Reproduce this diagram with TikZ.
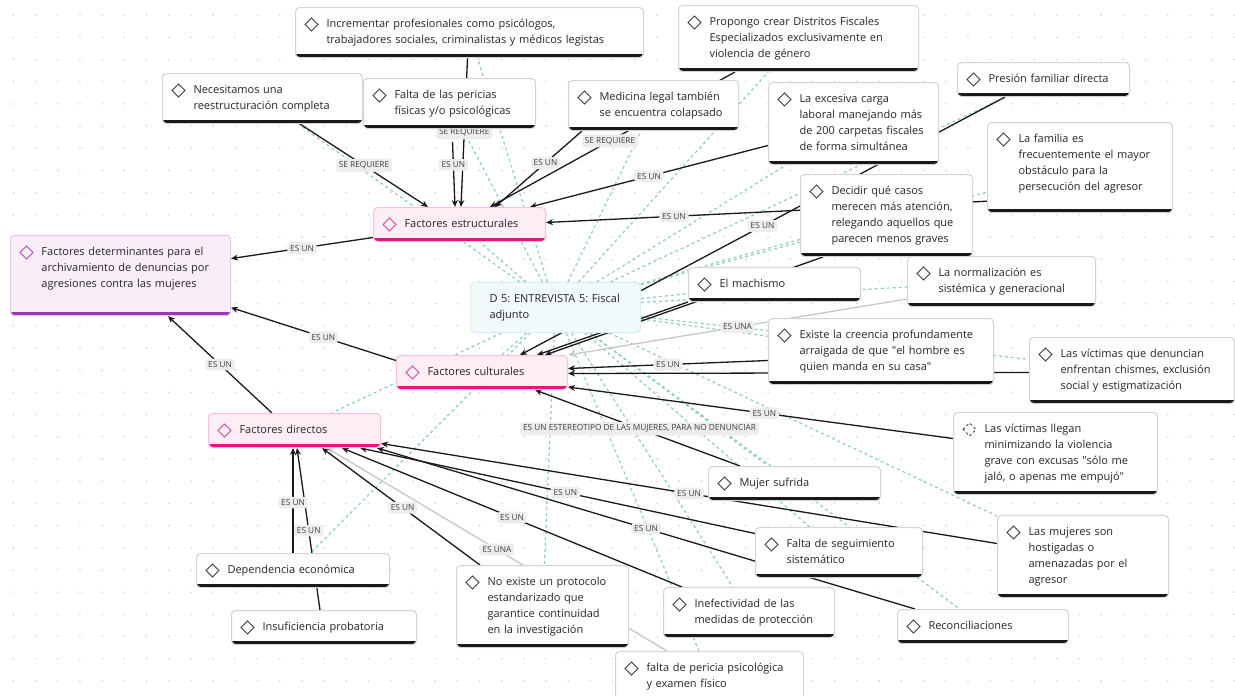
\documentclass[tikz,border=0pt]{standalone}
\usepackage{fontspec}
\setmainfont{Open Sans}
\usetikzlibrary{arrows.meta}
\frenchspacing

\definecolor{punto}{HTML}{D2D2D2}
\definecolor{rosafondo}{HTML}{FDEEF6}
\definecolor{rosaborde}{HTML}{F4C2DC}
\definecolor{rosabarra}{HTML}{E8157E}
\definecolor{rosaicono}{HTML}{D64D9B}
\definecolor{lilafondo}{HTML}{F9EEF8}
\definecolor{lilaborde}{HTML}{E8C6EA}
\definecolor{lilabarra}{HTML}{9A36AE}
\definecolor{lilaicono}{HTML}{B351C4}
\definecolor{docfondo}{HTML}{F2F9FB}
\definecolor{docborde}{HTML}{D8EDF1}
\definecolor{enlacecol}{HTML}{8FCFBD}

\pgfdeclarelayer{fondo}
\pgfdeclarelayer{lineas}
\pgfsetlayers{fondo,lineas,main}

\begin{document}
\begin{tikzpicture}[x=1pt, y=-1pt,
    caja/.style={rounded corners=4pt, anchor=north west, inner xsep=8pt, inner ysep=9pt,
        text width=#1pt-16pt, align=left, text=black!85, font=\fontsize{11}{16}\selectfont,
        execute at begin node={\leftskip=23pt\strut}, execute at end node={\strut}},
    icono/.style={draw=black!75},
    barra/.style={fill=black!90},
    marca/.style={path picture={
        \draw[icono, sharp corners, line width=1pt] ([xshift=16pt,yshift=-17pt]path picture bounding box.north west)
            +(-6.5pt,0pt) -- +(0pt,6.5pt) -- +(6.5pt,0pt) -- +(0pt,-6.5pt) -- cycle;
        \fill[barra, sharp corners] (path picture bounding box.south west)
            rectangle ([yshift=3.5pt]path picture bounding box.south east);}},
    cita/.style={caja=#1, marca, draw=black!17, fill=white, line width=1pt},
    codigo/.style={caja=#1, marca, draw=rosaborde, fill=rosafondo, line width=1pt,
        icono/.style={draw=rosaicono}, barra/.style={fill=rosabarra}},
    categoria/.style={caja=#1, marca, draw=lilaborde, fill=lilafondo, line width=1pt,
        icono/.style={draw=lilaicono}, barra/.style={fill=lilabarra}},
    documento/.style={caja=#1, draw=docborde, fill=docfondo, line width=1pt,
        execute at begin node={\leftskip=11pt\strut}},
    rel/.style={draw=black!90, line width=1.3pt, -{Stealth[length=7pt,width=6pt]}},
    relgris/.style={rel, draw=black!22},
    enlace/.style={draw=enlacecol, line width=1.2pt, dash pattern=on 3pt off 3pt},
    etiq/.style={fill=black!7, rounded corners=3pt, inner sep=2.8pt, text=black!75,
        font=\fontsize{8.3}{10}\selectfont}
]
    \useasboundingbox (0,0) rectangle (1235,696);

    \begin{pgfonlayer}{fondo}
        \fill[white] (0,0) rectangle (1235,696);
        \foreach \i in {0,...,55}
            \foreach \j in {0,...,30}
                \fill[punto] (13.3+22.2*\i, 15+22.2*\j) circle (0.9pt);
    \end{pgfonlayer}

    % codigos y documento
    \node[categoria=220] (FDET) at (10,235) {Factores determinantes para el\\archivamiento de denuncias por\\agresiones contra las mujeres\rule[-19pt]{0pt}{0pt}};
    \node[codigo=172] (FE) at (373,207) {Factores estructurales};
    \node[codigo=171] (FC) at (396,355) {Factores culturales};
    \node[codigo=172] (FD) at (208,413) {Factores directos};
    \node[documento=170] (D5) at (470,282) {D 5: ENTREVISTA 5: Fiscal\\adjunto};

    % citas
    \node[cita=348] (INC) at (295,7) {Incrementar profesionales como psicólogos,\\trabajadores sociales, criminalistas y médicos legistas};
    \node[cita=240] (PRO) at (678,5) {Propongo crear Distritos Fiscales\\Especializados exclusivamente en\\violencia de género};
    \node[cita=200] (NEC) at (162,73) {Necesitamos una\\reestructuración completa};
    \node[cita=172] (FAL) at (363,78) {Falta de las pericias\\físicas y/o psicológicas};
    \node[cita=170] (MED) at (568,80) {Medicina legal también\\se encuentra colapsado};
    \node[cita=170] (CAR) at (768,82) {La excesiva carga\\laboral manejando más\\de 200 carpetas fiscales\\de forma simultánea};
    \node[cita=172] (PRE) at (957,62) {Presión familiar directa};
    \node[cita=185] (FAM) at (987,122) {La familia es\\frecuentemente el mayor\\obstáculo para la\\persecución del agresor\rule[-13pt]{0pt}{0pt}};
    \node[cita=172] (DEC) at (800,174) {Decidir qué casos\\merecen más atención,\\relegando aquellos que\\parecen menos graves};
    \node[cita=172] (MAC) at (688,267) {El machismo};
    \node[cita=188] (NOR) at (907,256) {La normalización es\\sistémica y generacional};
    \node[cita=225] (EXI) at (768,318) {Existe la creencia profundamente\\arraigada de que \textquotedbl el hombre es\\quien manda en su casa\textquotedbl};
    \node[cita=205] (VDE) at (1029,337) {Las víctimas que denuncian\\enfrentan chismes, exclusión\\social y estigmatización};
    \node[cita=204, icono/.style={draw=black!75, dash pattern=on 2.5pt off 2.5pt}] (VLL) at (953,412) {Las víctimas llegan\\minimizando la violencia\\grave con excusas \textquotedbl sólo me\\jaló, o apenas me empujó\textquotedbl};
    \node[cita=172] (MUJ) at (708,466) {Mujer sufrida};
    \node[cita=171] (HOS) at (997,515) {Las mujeres son\\hostigadas o\\amenazadas por el\\agresor};
    \node[cita=167] (SEG) at (755,527) {Falta de seguimiento\\sistemático};
    \node[cita=193] (DEP) at (196,553) {Dependencia económica};
    \node[cita=172] (PROT) at (456,565) {No existe un protocolo\\estandarizado que\\garantice continuidad\\en la investigación};
    \node[cita=171] (INE) at (663,587) {Inefectividad de las\\medidas de protección};
    \node[cita=171] (REC) at (897,609) {Reconciliaciones};
    \node[cita=185] (INS) at (231,610) {Insuficiencia probatoria};
    \node[cita=188] (PER) at (615,651) {falta de pericia psicológica\\y examen físico};

    \begin{pgfonlayer}{lineas}
        % enlaces del documento
        \draw[enlace] (D5) -- (NEC);
        \draw[enlace] (D5) -- (INC);
        \draw[enlace] (D5) -- (FAL);
        \draw[enlace] (D5) -- (MED);
        \draw[enlace] (D5) -- (PRO);
        \draw[enlace] (D5) -- (CAR);
        \draw[enlace] (D5) -- (PRE);
        \draw[enlace] (D5) -- (FAM);
        \draw[enlace] (D5) -- (DEC);
        \draw[enlace] (D5) -- (FE);
        \draw[enlace] (D5) -- (MAC);
        \draw[enlace] (D5) -- (NOR);
        \draw[enlace] (D5) -- (EXI);
        \draw[enlace] (D5) -- (VDE);
        \draw[enlace] (D5) -- (FC);
        \draw[enlace] (D5) -- (FD);
        \draw[enlace] (D5) -- (MUJ);
        \draw[enlace] (D5) -- (HOS);
        \draw[enlace] (D5) -- (SEG);
        \draw[enlace] (D5) -- (REC);
        \draw[enlace] (D5) -- (INE);
        \draw[enlace] (D5) -- (PER);
        \draw[enlace] (D5) -- (PROT);
        \draw[enlace] (D5) -- (DEP);

        % relaciones
        \draw[rel] ([xshift=138pt]NEC.south west) -- node[etiq] {SE REQUIERE} ([xshift=55pt]FE.north west);
        \draw[rel] ([xshift=-2pt]INC.south) -- node[etiq] {SE REQUIERE} ([xshift=88pt]FE.north west);
        \draw[rel, shorten <=13pt] ([xshift=89pt]FAL.south west) -- node[etiq, pos=.46] {ES UN} ([xshift=82pt]FE.north west);
        \draw[rel] ([xshift=57pt]PRO.south west) -- node[etiq, pos=.51] {SE REQUIERE} ([xshift=117pt]FE.north west);
        \draw[rel] ([xshift=14pt]MED.south west) -- node[etiq, pos=.42] {ES UN} ([xshift=122pt]FE.north west);
        \draw[rel] (CAR) -- node[etiq] {ES UN} ([xshift=157pt]FE.north west);
        \draw[rel] ([yshift=12pt]FAM.south west) -- node[etiq, pos=.71] {ES UN} ([yshift=2pt]FE.east);
        \draw[rel] ([xshift=48pt]PRE.south west) -- node[etiq] {ES UN} ([xshift=124pt]FC.north west);
        \draw[rel] ([xshift=23pt]DEC.south west) -- ([xshift=149pt]FC.north west);
        \draw[rel] (MAC.south west) -- ([xshift=141pt]FC.north west);
        \draw[relgris] ([yshift=8pt]NOR.south west) -- node[etiq] {ES UNA} (FC.north east);
        \draw[rel] ([yshift=-2pt]VDE.west) -- ([yshift=-1pt]FC.east);
        \draw[rel] ([yshift=-9pt]EXI.west) -- node[etiq] {ES UN} ([yshift=4pt]FC.east);
        \draw[rel] ([yshift=15pt]VLL.west) -- node[etiq, pos=.49] {ES UN} ([yshift=3pt]FC.south east);
        \draw[rel] ([xshift=32pt]MUJ.north west) -- node[etiq, pos=.49] {ES UN ESTEREOTIPO DE LAS MUJERES, PARA NO DENUNCIAR} ([xshift=139pt]FC.south west);
        \draw[rel] ([yshift=-13pt]FE.west) -- node[etiq] {ES UN} ([yshift=17pt]FDET.east);
        \draw[rel] ([yshift=12pt]FC.west) -- node[etiq, pos=.44] {ES UN} ([yshift=-32pt]FDET.east);
        \draw[rel] ([xshift=64pt]FD.north west) -- node[etiq] {ES UN} ([xshift=158pt]FDET.south west);
        \draw[rel] ([xshift=89pt]INS.north west) -- node[etiq, pos=.49] {ES UN} ([xshift=89pt]FD.south west);
        \draw[rel] ([xshift=97pt]DEP.north west) -- node[etiq, pos=.48] {ES UN} ([xshift=85pt]FD.south west);
        \draw[relgris] (PER) -- node[etiq] {ES UNA} ([xshift=119pt]FD.south west);
        \draw[rel] ([xshift=24pt]PROT.north west) -- node[etiq, pos=.49] {ES UN} ([xshift=114pt]FD.south west);
        \draw[rel] ([xshift=19pt]INE.north west) -- node[etiq] {ES UN} ([xshift=134pt]FD.south west);
        \draw[rel] ([yshift=19pt]SEG.west) -- node[etiq, pos=.48] {ES UN} ([xshift=152pt]FD.south west);
        \draw[rel] ([xshift=18pt]REC.north west) -- node[etiq] {ES UN} ([xshift=-4pt]FD.south east);
        \draw[rel] ([yshift=13pt]HOS.west) -- node[etiq] {ES UN} ([yshift=-13pt]FD.east);
    \end{pgfonlayer}
\end{tikzpicture}
\end{document}
